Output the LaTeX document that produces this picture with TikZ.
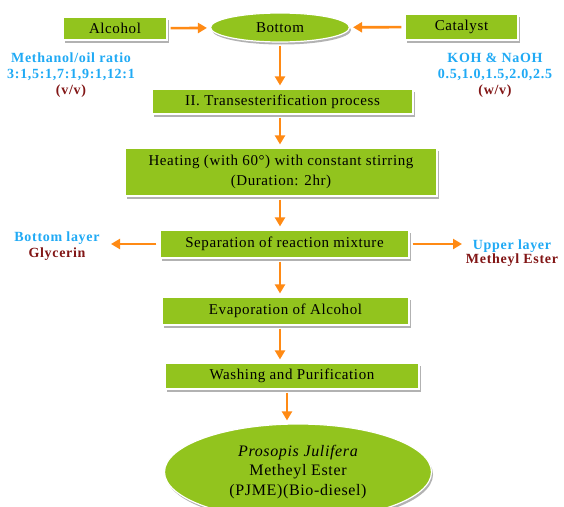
\documentclass[tikz,border=0pt]{standalone}
\usepackage{fontspec}
\setmainfont{Liberation Serif}
\newfontfamily\boxfont{Liberation Serif}[LetterSpace=4]
\newfontfamily\labelfont{Liberation Serif}[LetterSpace=5]
\usetikzlibrary{arrows.meta,shapes.geometric,shadows}
\definecolor{stepgreen}{RGB}{146,196,30}
\definecolor{flowarrow}{RGB}{255,138,20}
\definecolor{labelblue}{RGB}{32,170,245}
\definecolor{labelred}{RGB}{130,22,22}
\begin{document}
\begin{tikzpicture}[x=1pt,y=-1pt,
  stepbox/.style={draw=white,line width=1.2pt,fill=stepgreen,inner sep=0pt,align=center,
    font=\boxfont\fontsize{15}{20}\selectfont,
    drop shadow={shadow xshift=1.5pt,shadow yshift=-2.5pt,fill=black!30,opacity=1}},
  stepoval/.style={stepbox,ellipse},
  sidelabel/.style={align=center,inner sep=0pt,text=labelblue,
    font=\labelfont\bfseries\fontsize{14}{16}\selectfont},
  flow/.style={draw=flowarrow,line width=2.6pt,-{Triangle[length=9pt,width=10pt]},
    shorten <=3pt,shorten >=3pt}]
\useasboundingbox (0,0) rectangle (564,506);
\fill [white] (0,0) rectangle (564,506);

\node [stepbox,minimum width=104,minimum height=23] (alcohol) at (115,28.5) {Alcohol};
\node [stepoval,minimum width=139,minimum height=29] (bottom) at (280,27.5) {Bottom};
\node [stepbox,minimum width=113,minimum height=26] (catalyst) at (461.5,27) {Catalyst};

\node [sidelabel] (ratio) at (71,75) {Methanol/oil ratio\\3:1,5:1,7:1,9:1,12:1\\{\color{labelred}(v/v)}};
\node [sidelabel] (koh) at (495,75) {KOH \& NaOH\\0.5,1.0,1.5,2.0,2.5\\{\color{labelred}(w/v)}};

\node [stepbox,minimum width=261,minimum height=25] (trans) at (282.5,101.5) {II. Transesterification process};
\node [stepbox,minimum width=312,minimum height=48] (heat) at (281,172) {Heating (with 60°) with constant stirring\\(Duration: 2hr)};
\node [stepbox,minimum width=249,minimum height=28] (sep) at (284.5,244) {Separation of reaction mixture};
\node [sidelabel] (botlayer) at (57,246) {Bottom layer\\{\color{labelred}Glycerin}};
\node [sidelabel,font=\labelfont\bfseries\fontsize{14}{14}\selectfont] (uplayer) at (512,253) {Upper layer\\{\color{labelred}Metheyl Ester}};
\node [stepbox,minimum width=247,minimum height=28] (evap) at (285.5,311) {Evaporation of Alcohol};
\node [stepbox,minimum width=254,minimum height=26] (wash) at (292,376) {Washing and Purification};
\node [stepoval,minimum width=267,minimum height=96,font=\boxfont\fontsize{16}{19.5}\selectfont] (pjme) at (298,472) {{\itshape Prosopis Julifera}\\Metheyl Ester\\(PJME)(Bio-diesel)};

\coordinate (glycerin) at (108,244);
\coordinate (ester) at (465,244);

\draw [flow] (alcohol) -- (bottom);
\draw [flow] (catalyst) -- (bottom);
\draw [flow] (bottom) -- (bottom |- trans.north);
\draw [flow] (trans.south -| bottom) -- (heat.north -| bottom);
\draw [flow] (heat.south -| bottom) -- (sep.north -| bottom);
\draw [flow] (sep) -- (glycerin);
\draw [flow] (sep) -- (ester);
\draw [flow] (sep.south -| bottom) -- (evap.north -| bottom);
\draw [flow] (evap.south -| bottom) -- (wash.north -| bottom);
\draw [flow] ([xshift=-5pt]wash.south) -- ([xshift=-5pt]wash.south |- pjme.north);
\end{tikzpicture}
\end{document}
